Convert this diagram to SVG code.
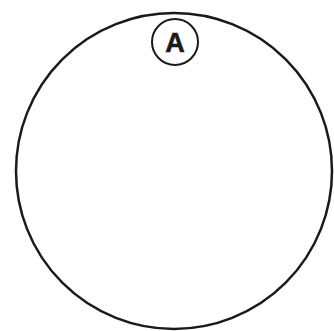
<svg xmlns="http://www.w3.org/2000/svg" width="334" height="331" viewBox="0 0 334 331">
<style>
.ln{fill:none;stroke:#1a1a1a}
.lbl{font-family:"Liberation Sans",Arial,sans-serif;font-weight:bold;font-size:27px;fill:#1a1a1a;text-anchor:middle}
</style>
<rect width="334" height="331" fill="#ffffff"/>
<g id="outer"><circle class="ln" cx="174" cy="171" r="158" stroke-width="2.5"/></g>
<g id="nodeA"><circle class="ln" cx="175" cy="42" r="23" stroke-width="2"/><text class="lbl" x="175" y="51.5" stroke="#1a1a1a" stroke-width="0.6">A</text></g>
<g id="connectors"></g>
</svg>
